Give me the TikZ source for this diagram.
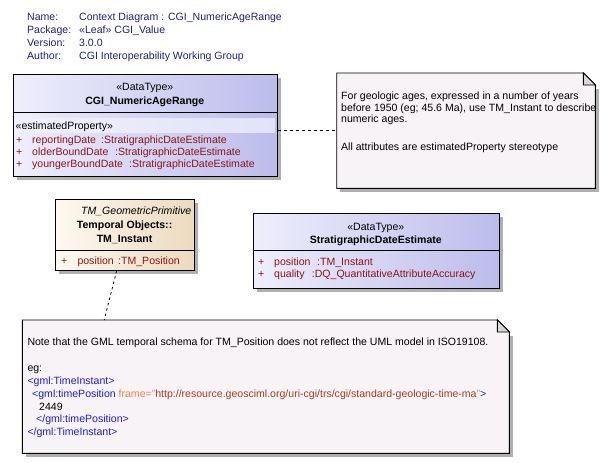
\documentclass[tikz,border=0pt]{standalone}
\usepackage{fontspec}
\setmainfont{Liberation Sans}
\usetikzlibrary{shadows}
\definecolor{hdr}{RGB}{30,30,140}
\definecolor{attr}{RGB}{140,20,20}
\definecolor{lavL}{RGB}{238,238,252}
\definecolor{lavR}{RGB}{188,188,236}
\definecolor{bandL}{RGB}{240,240,253}
\definecolor{bandR}{RGB}{226,226,249}
\definecolor{begL}{RGB}{254,249,240}
\definecolor{begR}{RGB}{236,218,190}
\definecolor{notefill}{RGB}{247,243,247}
\definecolor{foldfill}{RGB}{215,215,215}
\definecolor{shadowc}{RGB}{175,175,175}
\definecolor{gmlblue}{RGB}{30,30,210}
\definecolor{gmlorange}{RGB}{240,130,80}
\definecolor{gmlbrown}{RGB}{165,60,30}
\begin{document}
\begin{tikzpicture}[x=1pt,y=-1pt,
  font=\fontsize{10.55}{12}\selectfont,
  txt/.style={inner sep=0pt, anchor=base west},
  ctxt/.style={inner sep=0pt, anchor=base},
  rtxt/.style={inner sep=0pt, anchor=base east},
  hdrtxt/.style={txt, text=hdr},
  attrtxt/.style={txt, text=attr},
  umlbox/.style={draw=black, line width=0.9pt, anchor=north west, inner sep=0pt,
    drop shadow={shadow xshift=3.5pt, shadow yshift=-3.5pt, opacity=1, fill=shadowc}},
  lav/.style={umlbox, left color=lavL, right color=lavR},
  beige/.style={umlbox, left color=begL, right color=begR},
  notebase/.style={draw=none, anchor=north west, inner sep=0pt},
  noteline/.style={draw=black, line width=0.9pt, fill=notefill},
  foldstyle/.style={draw=black, line width=0.9pt, fill=foldfill},
  divider/.style={draw=black, line width=0.9pt},
  notelink/.style={draw=black, line width=0.8pt, dash pattern=on 3pt off 3pt},
  notelinkdot/.style={draw=black, line width=0.8pt, dash pattern=on 2.5pt off 3pt}
]
\path[use as bounding box] (0,0) rectangle (606,463);

% header
\node[hdrtxt] (hName) at (27,20) {Name:};
\node[hdrtxt] (vName) at (79,20) {Context Diagram : CGI\_NumericAgeRange};
\node[hdrtxt] (hPkg) at (27,33) {Package:};
\node[hdrtxt] (vPkg) at (79,33) {«Leaf» CGI\_Value};
\node[hdrtxt] (hVer) at (27,46) {Version:};
\node[hdrtxt] (vVer) at (79,46) {3.0.0};
\node[hdrtxt] (hAut) at (27,59) {Author:};
\node[hdrtxt] (vAut) at (79,59) {CGI Interoperability Working Group};

% box 1: CGI_NumericAgeRange
\node[lav, minimum width=264.3pt, minimum height=102pt] (b1) at (12.7,74) {};
\draw[divider] (b1.west |- 0,112) -- (b1.east |- 0,112);
\fill[left color=bandL, right color=bandR] (14.5,118) rectangle (275,132);
\node[ctxt] (b1st) at (144.8,90) {«DataType»};
\node[ctxt] (b1nm) at (144.8,104) {\textbf{CGI\_NumericAgeRange}};
\node[txt] (b1ep) at (15.5,129) {«estimatedProperty»};
\node[attrtxt] (b1p1) at (16,143) {+};
\node[attrtxt] (b1a1) at (32,143) {reportingDate};
\node[attrtxt] (b1t1) at (101,143) {:StratigraphicDateEstimate};
\node[attrtxt] (b1p2) at (16,155) {+};
\node[attrtxt] (b1a2) at (32,155) {olderBoundDate};
\node[attrtxt] (b1t2) at (115,155) {:StratigraphicDateEstimate};
\node[attrtxt] (b1p3) at (16,167) {+};
\node[attrtxt] (b1a3) at (32,167) {youngerBoundDate};
\node[attrtxt] (b1t3) at (129,167) {:StratigraphicDateEstimate};

% note 1
\node[notebase, minimum width=258.3pt, minimum height=115pt] (n1) at (336.7,73) {};
\fill[shadowc] ([xshift=3.5pt,yshift=-3.5pt]n1.south west) rectangle ([xshift=3.5pt,yshift=-15.5pt]n1.north east);
\path[noteline] (n1.north west) -- ([xshift=-12pt]n1.north east) -- ([yshift=-12pt]n1.north east)
  -- (n1.south east) -- (n1.south west) -- cycle;
\path[foldstyle] ([xshift=-12pt]n1.north east) -- ([xshift=-12pt,yshift=-12pt]n1.north east)
  -- ([yshift=-12pt]n1.north east) -- cycle;
\node[txt] (n1l1) at (341,99) {For geologic ages, expressed in a number of years};
\node[txt] (n1l2) at (341,111) {before 1950 (eg; 45.6 Ma), use TM\_Instant to describe};
\node[txt] (n1l3) at (341,122.5) {numeric ages.};
\node[txt] (n1l4) at (341,150) {All attributes are estimatedProperty stereotype};

\draw[notelink] (b1.east |- n1.west) -- (n1.west);

% box 2: TM_Instant
\node[beige, minimum width=138.7pt, minimum height=70.7pt] (b2) at (55.3,199.3) {};
\draw[divider] (b2.west |- 0,250) -- (b2.east |- 0,250);
\node[rtxt] (b2st) at (191.5,214) {\textit{TM\_GeometricPrimitive}};
\node[ctxt] (b2n1) at (124.6,228) {\textbf{Temporal Objects::}};
\node[ctxt] (b2n2) at (124.6,242) {\textbf{TM\_Instant}};
\node[attrtxt] (b2p1) at (61,264) {+};
\node[attrtxt] (b2a1) at (77.3,264) {position};
\node[attrtxt] (b2t1) at (118,264) {:TM\_Position};

% box 3: StratigraphicDateEstimate
\node[lav, minimum width=246.3pt, minimum height=74.7pt] (b3) at (252.7,213.3) {};
\draw[divider] (b3.west |- 0,250) -- (b3.east |- 0,250);
\node[ctxt] (b3st) at (375.8,230) {«DataType»};
\node[ctxt] (b3nm) at (375.8,243) {\textbf{StratigraphicDateEstimate}};
\node[attrtxt] (b3p1) at (258,265) {+};
\node[attrtxt] (b3a1) at (274,265) {position};
\node[attrtxt] (b3t1) at (317,265) {:TM\_Instant};
\node[attrtxt] (b3p2) at (258,277) {+};
\node[attrtxt] (b3a2) at (274,277) {quality};
\node[attrtxt] (b3t2) at (311.7,277) {:DQ\_QuantitativeAttributeAccuracy};

% note 2
\node[notebase, minimum width=486.7pt, minimum height=133pt] (n2) at (22.3,320) {};
\fill[shadowc] ([xshift=3.5pt,yshift=-3.5pt]n2.south west) rectangle ([xshift=3.5pt,yshift=-15.5pt]n2.north east);
\path[noteline] (n2.north west) -- ([xshift=-12pt]n2.north east) -- ([yshift=-12pt]n2.north east)
  -- (n2.south east) -- (n2.south west) -- cycle;
\path[foldstyle] ([xshift=-12pt]n2.north east) -- ([xshift=-12pt,yshift=-12pt]n2.north east)
  -- ([yshift=-12pt]n2.north east) -- cycle;
\node[txt] (n2l1) at (27.3,345) {Note that the GML temporal schema for TM\_Position does not reflect the UML model in ISO19108.};
\node[txt] (n2l2) at (27.3,371) {eg:};
\node[txt, text=gmlblue] (n2l3) at (27.3,384) {<gml:TimeInstant>};
\node[txt] (n2l4) at (32,397) {\textcolor{gmlblue}{<gml:timePosition} \textcolor{gmlorange}{frame="}\textcolor{gmlbrown}{http://resource.geosciml.org/uri-cgi/trs/cgi/standard-geologic-time-ma}\textcolor{gmlorange}{"}\textcolor{gmlblue}{>}};
\node[txt] (n2l5) at (39,410) {2449};
\node[txt, text=gmlblue] (n2l6) at (36,422) {</gml:timePosition>};
\node[txt, text=gmlblue] (n2l7) at (27.3,435) {</gml:TimeInstant>};

\draw[notelinkdot] ([xshift=-8.5pt]b2.south) -- ([xshift=-161.6pt]n2.north);
\end{tikzpicture}
\end{document}
